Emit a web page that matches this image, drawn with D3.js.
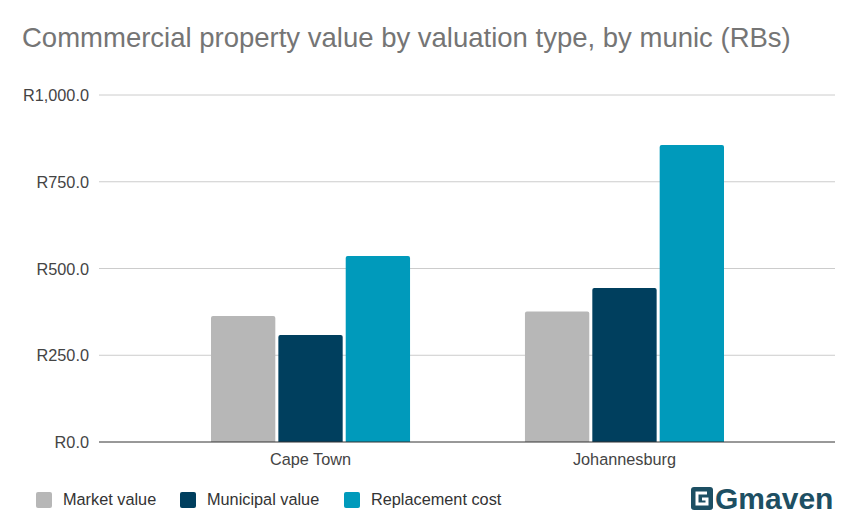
<!DOCTYPE html>
<html>
<head>
<meta charset="utf-8">
<script src="https://cdn.jsdelivr.net/npm/d3@7"></script>
<style>
	body { margin: 0; background: #fff; }
	text { font-family: "Liberation Sans", Arial, sans-serif; }
</style>
</head>
<body>
<svg id="chart"></svg>
<script>
// chart data
const categories = ["Cape Town", "Johannesburg"];
const seriesNames = ["Market value", "Municipal value", "Replacement cost"];
const marketValue = [363, 376];
const municipalValue = [308, 444];
const replacementCost = [536, 856];
const yTicks = [0, 250, 500, 750, 1000];
const colors = ["#b7b7b7", "#003f5e", "#009abb"];

const svgWidth = 856, svgHeight = 531;
const svg = d3.select("#chart")
	.attr("width", svgWidth)
	.attr("height", svgHeight);

const series = [marketValue, municipalValue, replacementCost];
const grid = {left: 99, right: 835, top: 95, bottom: 442};

// Scales
const y = d3.scaleLinear().domain([0, 1000]).range([grid.bottom, grid.top]);
const x0 = d3.scaleBand().domain(categories).range([211, 724]).paddingInner(0.366).paddingOuter(0);
const x1 = d3.scaleBand().domain(seriesNames).range([0, x0.bandwidth()]).paddingInner(0.045).paddingOuter(0);

// Title
svg.append("text")
	.attr("x", 22)
	.attr("y", 47)
	.style("font-size", "27.5px")
	.style("fill", "#757575")
	.text("Commmercial property value by valuation type, by munic (RBs)");

// Gridlines
svg.append("g")
	.selectAll("line")
	.data(yTicks.filter(d => d > 0))
	.enter().append("line")
		.attr("x1", grid.left)
		.attr("x2", grid.right)
		.attr("y1", d => y(d))
		.attr("y2", d => y(d))
		.style("stroke", "#cccccc")
		.style("stroke-width", 1);

// Y labels
svg.append("g")
	.selectAll("text")
	.data(yTicks)
	.enter().append("text")
		.attr("x", 89)
		.attr("y", d => y(d) + 6)
		.attr("text-anchor", "end")
		.style("font-size", "16.3px")
		.style("fill", "#444")
		.text(d => "R" + d3.format(",.1f")(d));

// Bars
const groups = svg.append("g")
	.selectAll("g")
	.data(categories)
	.enter().append("g")
		.attr("transform", d => "translate(" + x0(d) + ",0)");

groups.selectAll("path")
	.data((d, i) => series.map((s, j) => ({name: seriesNames[j], value: s[i], color: colors[j]})))
	.enter().append("path")
		.attr("d", d => {
			const bx = x1(d.name), bw = x1.bandwidth();
			const top = y(d.value), r = 2;
			return "M" + bx + "," + grid.bottom +
				"V" + (top + r) + "Q" + bx + "," + top + " " + (bx + r) + "," + top +
				"H" + (bx + bw - r) + "Q" + (bx + bw) + "," + top + " " + (bx + bw) + "," + (top + r) +
				"V" + grid.bottom + "Z";
		})
		.style("fill", d => d.color);

// Baseline
svg.append("line")
	.attr("x1", grid.left)
	.attr("x2", grid.right)
	.attr("y1", y(0))
	.attr("y2", y(0))
	.style("stroke", "#333")
	.style("stroke-width", 1);

// Category labels
svg.append("g")
	.selectAll("text")
	.data(categories)
	.enter().append("text")
		.attr("x", d => x0(d) + x0.bandwidth() / 2)
		.attr("y", 465)
		.attr("text-anchor", "middle")
		.style("font-size", "16.3px")
		.style("fill", "#444")
		.text(d => d);

// Legend
const legendX = [36, 180, 344];
const legend = svg.append("g")
	.selectAll("g")
	.data(seriesNames)
	.enter().append("g")
		.attr("transform", (d, i) => "translate(" + legendX[i] + ",492)");
legend.append("rect")
	.attr("width", 16)
	.attr("height", 16)
	.attr("rx", 2)
	.style("fill", (d, i) => colors[i]);
legend.append("text")
	.attr("x", 27)
	.attr("y", 13)
	.style("font-size", "16.3px")
	.style("fill", "#333")
	.text(d => d);

// Logo
const logo = svg.append("g").attr("transform", "translate(691,487)");
logo.append("rect")
	.attr("width", 22)
	.attr("height", 23)
	.attr("rx", 3)
	.style("fill", "#1d4f63");
logo.append("path")
	.attr("d", "M16,6 H6 V17 H16 V12 H11")
	.style("fill", "none")
	.style("stroke", "#fff")
	.style("stroke-width", 3);
logo.append("text")
	.attr("x", 24)
	.attr("y", 22)
	.style("font-size", "30px")
	.style("font-weight", "bold")
	.style("fill", "#1d4f63")
	.text("Gmaven");
</script>
</body>
</html>
